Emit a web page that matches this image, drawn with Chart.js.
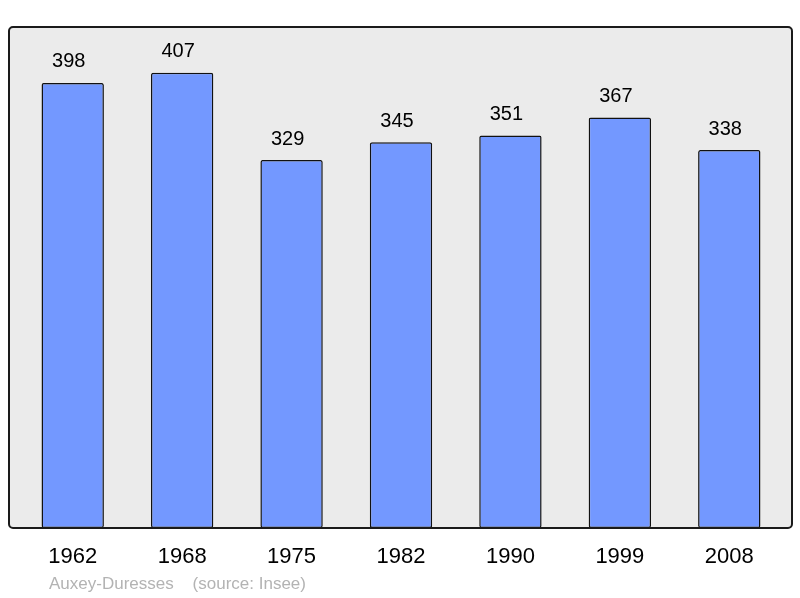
<!DOCTYPE html>
<html>
<head>
<meta charset="utf-8">
<script src="https://cdn.jsdelivr.net/npm/chart.js@4"></script>
<style>
  html, body { margin: 0; padding: 0; background: #fff; }
  #wrap { width: 800px; height: 598px; }
</style>
</head>
<body>
<div id="wrap"><canvas id="popChart"></canvas></div>
<script>
// Population data
const years = ["1962", "1968", "1975", "1982", "1990", "1999", "2008"]
const population = [398, 407, 329, 345, 351, 367, 338]
const sourceLabel = "Auxey-Duresses    (source: Insee)"

// frame behind the bars, slightly wider than the category scale
const framePlugin = {
  id: "frame",
  beforeDatasetsDraw(chart) {
    const { ctx, chartArea } = chart
    ctx.save()
    ctx.beginPath()
    ctx.roundRect(chartArea.left - 9, chartArea.top, chartArea.right - chartArea.left + 17, chartArea.bottom - chartArea.top, 4)
    ctx.fillStyle = "#ebebeb"
    ctx.fill()
    ctx.restore()
  },
  afterDatasetsDraw(chart) {
    const { ctx, chartArea } = chart
    ctx.save()
    ctx.beginPath()
    ctx.roundRect(chartArea.left - 9, chartArea.top, chartArea.right - chartArea.left + 17, chartArea.bottom - chartArea.top, 4)
    ctx.lineWidth = 2
    ctx.strokeStyle = "#1a1a1a"
    ctx.stroke()

    // value labels above the bars
    ctx.font = "20px 'Liberation Sans', Arial, sans-serif"
    ctx.fillStyle = "#000"
    ctx.textAlign = "center"
    ctx.textBaseline = "middle"
    chart.getDatasetMeta(0).data.forEach((bar, i) => {
      ctx.fillText(String(population[i]), bar.x - 4, bar.y - 21)
    })

    // source line
    ctx.font = "17px 'Liberation Sans', Arial, sans-serif"
    ctx.fillStyle = "#b3b3b3"
    ctx.textAlign = "left"
    ctx.fillText(sourceLabel, 49, 584)
    ctx.restore()
  },
}

new Chart(document.getElementById("popChart"), {
  type: "bar",
  data: {
    labels: years,
    datasets: [
      {
        data: population,
        backgroundColor: "#7398ff",
        borderColor: "#111",
        borderWidth: 1.5,
        borderRadius: 2,
        borderSkipped: false,
        barPercentage: 0.57,
        categoryPercentage: 1,
      },
    ],
  },
  options: {
    responsive: true,
    maintainAspectRatio: false,
    animation: false,
    devicePixelRatio: 1,
    layout: { padding: { left: 18, right: 16, top: 27, bottom: 0 } },
    plugins: {
      legend: { display: false },
      tooltip: { enabled: false },
    },
    scales: {
      x: {
        grid: { display: false },
        border: { display: false },
        ticks: {
          color: "#000",
          padding: 8,
          font: { family: "'Liberation Sans', Arial, sans-serif", size: 22 },
        },
        afterFit: (scale) => { scale.height = 70 },
      },
      y: {
        display: false,
        min: 0,
        max: 448,
      },
    },
  },
  plugins: [framePlugin],
})
</script>
</body>
</html>
